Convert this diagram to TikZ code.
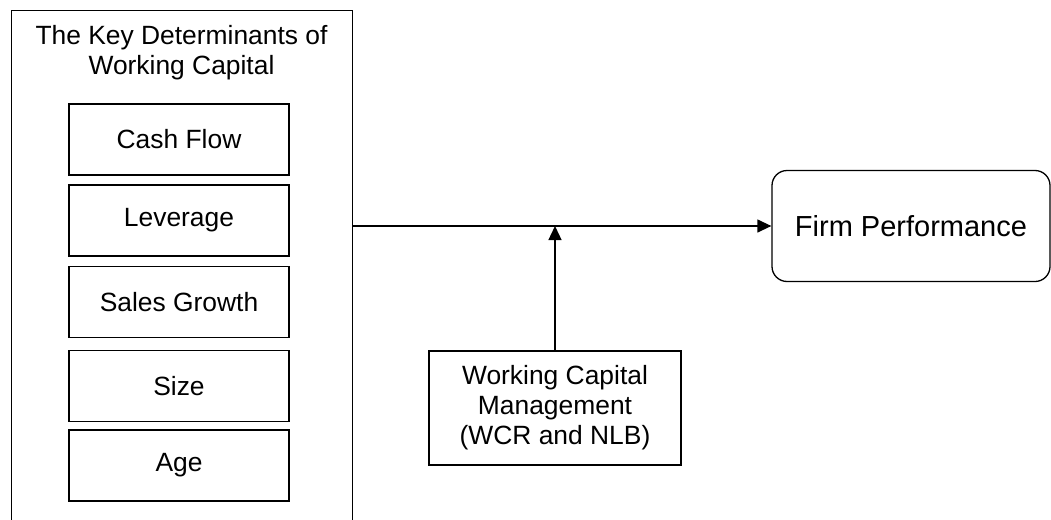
\documentclass[tikz,border=0pt]{standalone}
\usepackage{fontspec}
\setmainfont{Liberation Sans}
\usetikzlibrary{arrows.meta}
\begin{document}
\begin{tikzpicture}[x=1pt,y=-1pt,
  line width=1.3pt,
  txt/.style={font=\fontsize{26.4}{30}\selectfont, align=center, inner sep=0pt},
  factor/.style={draw, txt, minimum width=220pt, minimum height=71pt},
  arr/.style={-{Triangle[length=14pt,width=13pt]}},
]
\useasboundingbox (0,0) rectangle (1051,519);
% outer container (bottom edge lies below the page)
\node[draw, anchor=north west, minimum width=341pt, minimum height=560pt, inner sep=0pt] (outer) at (11,10) {};
\node[txt] (title) at (181.5,53) {The Key Determinants of\\Working Capital};
\node[factor] (cash) at (179,139.5) {Cash Flow};
\node[factor] (lev) at (179,220.5) {Leverage};
\node[factor] (sales) at (179,302) {Sales Growth};
\node[factor] (size) at (179,386) {Size};
\node[factor] (age) at (179,465.5) {Age};
% firm performance
\node[draw, rounded corners=15pt, minimum width=278pt, minimum height=111pt,
      font=\fontsize{29}{33}\selectfont, inner sep=0pt] (firm) at (911,226) {Firm Performance};
% working capital management
\node[draw, txt, minimum width=252pt, minimum height=114pt] (wcm) at (555,408)
  {Working Capital\\Management\\(WCR and NLB)};
\coordinate (start) at (outer.east |- firm.west);
\coordinate (join) at (wcm.north |- firm.west);
\draw[arr] (start) -- (firm.west);
\draw[arr] (wcm.north) -- (join);
\end{tikzpicture}
\end{document}
